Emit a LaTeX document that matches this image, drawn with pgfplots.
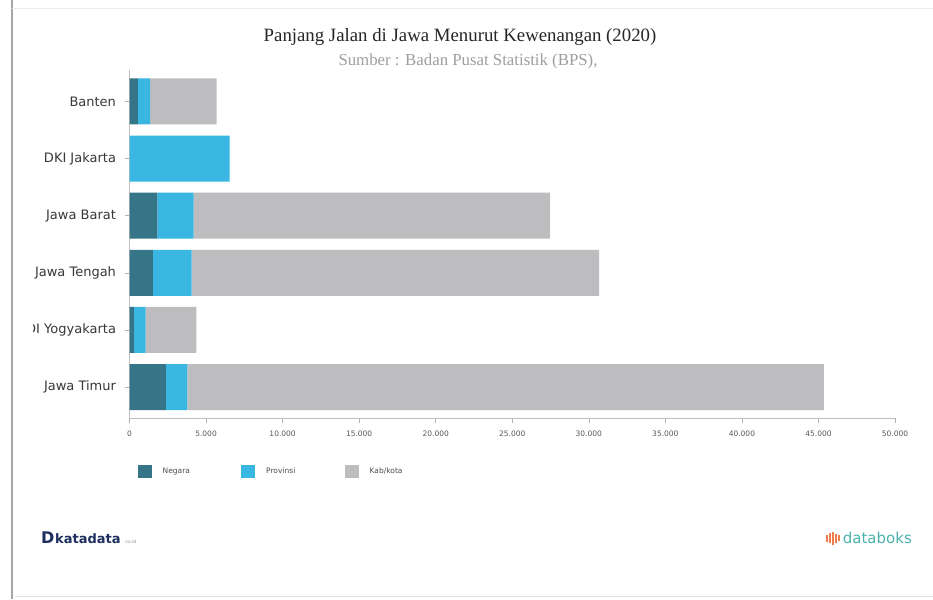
\documentclass[border=0pt]{standalone}
\usepackage{pgfplots}
\pgfplotsset{compat=1.18}
\usepackage{fontspec}
\setmainfont{DejaVu Sans}
\newfontfamily\serifttl{Liberation Serif}
\definecolor{cNeg}{HTML}{367588}
\definecolor{cProv}{HTML}{3AB6E3}
\definecolor{cKab}{HTML}{BDBDBF}
\definecolor{navy}{HTML}{1D2F5E}
\definecolor{teal2}{HTML}{4BB3AC}
\definecolor{orng}{HTML}{F07C4C}
\begin{document}
\begin{tikzpicture}
\path[use as bounding box] (0pt,0pt) rectangle (933pt,599pt);
\fill[white] (0pt,0pt) rectangle (933pt,599pt);
% frame
\draw[black!35, line width=2.5pt] (12pt,0pt) -- (12pt,599pt);
\draw[black!12, line width=1pt] (15pt,3pt) -- (933pt,3pt);
\draw[black!8, line width=0.8pt] (12pt,591pt) -- (933pt,591pt);
% titles
\node[font=\serifttl\fontsize{18.8}{21}\selectfont, text=black!85] at (460pt,562pt) {Panjang Jalan di Jawa Menurut Kewenangan (2020)};
\node[font=\serifttl\fontsize{16.8}{19}\selectfont, text=black!38] at (468pt,538pt) {Sumber : Badan Pusat Statistik (BPS),};
\begin{scope}
\clip (33pt,0pt) rectangle (933pt,599pt);
\begin{axis}[
  at={(129.5pt,181pt)}, anchor=south west,
  scale only axis, width=765.5pt, height=348pt,
  xbar stacked, bar width=46pt,
  xmin=0, xmax=50000, ymin=-0.54, ymax=5.55,
  xtick={0,5000,...,50000},
  ytick={0,1,2,3,4,5},
  yticklabels={Jawa Timur,DI Yogyakarta,Jawa Tengah,Jawa Barat,DKI Jakarta,Banten},
  axis x line*=bottom, axis y line*=left,
  axis line style={black!25, -},
  tick style={black!30, line width=0.6pt},
  tick align=outside, major tick length=5pt,
  x tick label style={font=\fontsize{7.5}{8}\selectfont, text=black!65, yshift=-4pt},
  y tick label style={font=\fontsize{13}{15}\selectfont, text=black!78, xshift=-5pt},
  /pgf/number format/.cd, 1000 sep={.}, assume math mode=true,
  /pgfplots/.cd,
  scaled x ticks=false,
  legend style={at={(0.0065,-0.128)}, anchor=north west, draw=none, fill=none,
    font=\fontsize{7.5}{8}\selectfont, text=black!70,
    nodes={text width=76.5pt, align=left, inner sep=2pt}},
  legend columns=3,
  legend image code/.code={\fill[#1] (0pt,-6.5pt) rectangle (14pt,6.5pt); \path (23pt,0pt);},
]
\addplot[fill=cNeg, draw=none] coordinates {(2380,0) (290,1) (1530,2) (1820,3) (0,4) (540,5)};
\addplot[fill=cProv, draw=none] coordinates {(1400,0) (770,1) (2530,2) (2370,3) (6540,4) (800,5)};
\addplot[fill=cKab, draw=none] coordinates {(41580,0) (3300,1) (26610,2) (23280,3) (0,4) (4350,5)};
\legend{Negara,Provinsi,Kab/kota}
\end{axis}
\end{scope}
% logos
\node[anchor=west, font=\bfseries\fontsize{16}{17}\selectfont, text=navy, inner sep=0] at (41pt,61pt) {D};
\node[anchor=west, font=\bfseries\fontsize{13}{14}\selectfont, text=navy, inner sep=0] at (55pt,60.5pt) {katadata};
\node[anchor=west, font=\fontsize{4.5}{5}\selectfont, text=black!45, inner sep=0] at (124pt,57.5pt) {.co.id};
\node[anchor=east, font=\fontsize{15}{16}\selectfont, text=teal2, inner sep=0] at (912pt,61pt) {databoks};
\foreach \xx/\hh in {827/4,830/7,833/10,836/6,839/3}{\draw[orng, line width=1.3pt] (\xx pt,61pt-\hh pt/2-2pt) -- (\xx pt,61pt+\hh pt/2+1pt);}
\end{tikzpicture}
\end{document}
